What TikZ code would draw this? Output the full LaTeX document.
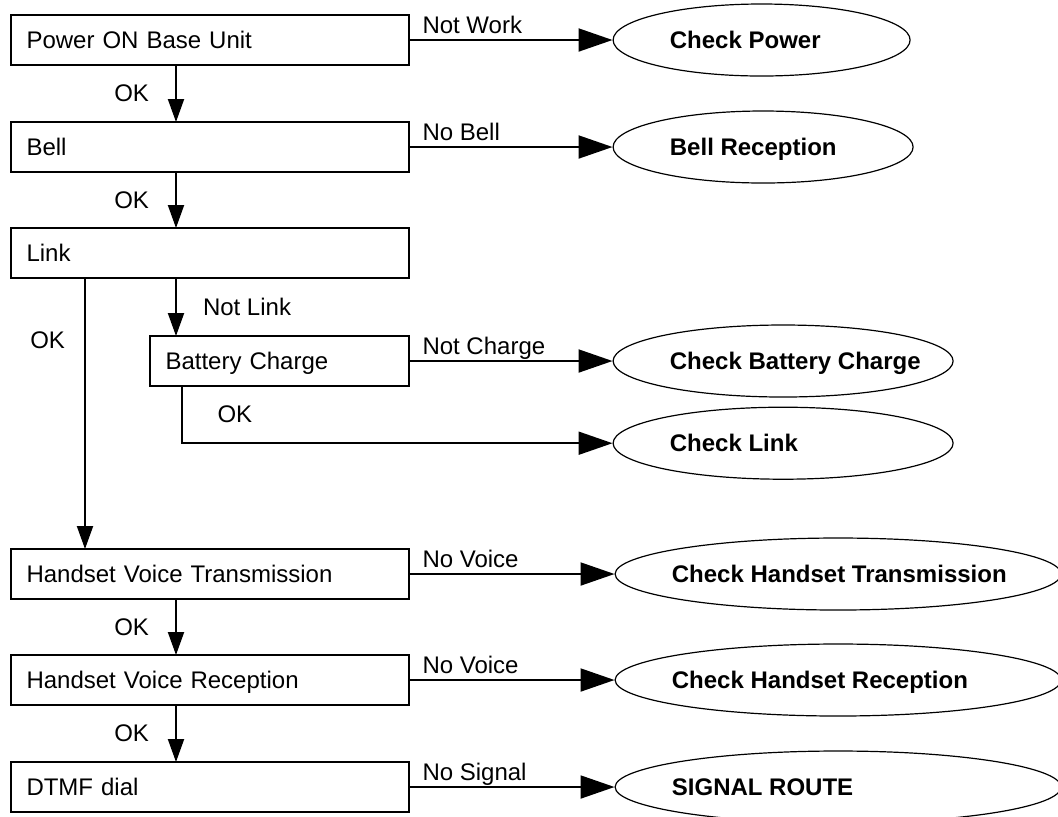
\documentclass[12pt,tikz,border=0pt]{standalone}
\usepackage{fontspec}
\setmainfont{Liberation Sans}
\usetikzlibrary{arrows.meta,positioning,shapes.geometric}

\begin{document}
\begin{tikzpicture}[
  node distance=28.5pt and 102pt,
  box/.style={draw, line width=1pt, outer sep=0pt, minimum height=25pt,
              text width=#1, inner xsep=8pt, align=left,
              text height=8.6pt, text depth=0pt},
  box/.default=183pt,
  oval/.style 2 args={ellipse, draw, line width=0.6pt, minimum width=#1,
              minimum height=36pt,
              label={[font=\bfseries, anchor=west, xshift=24.5pt,
                      text height=8.6pt, text depth=0pt]west:#2}},
  varr/.style={-{Triangle[length=11.5pt, width=8pt]}, line width=1pt},
  arr/.style={-{Triangle[length=17pt, width=11.5pt]}, line width=1pt},
  lbl/.style={pos=0, anchor=base west, inner sep=0pt, xshift=6.5pt, yshift=3.5pt},
  oklbl/.style={midway, left, inner sep=0pt, xshift=-13pt}
]
\useasboundingbox (0,0) rectangle (529pt,-408pt);
\coordinate (spine) at (88pt,0);
\coordinate (trunk) at (42.5pt,0);

% test steps
\node[box] (power) at (104.75pt,-20pt) {Power ON Base Unit};
\node[box, below=of power] (bell) {Bell};
\node[box, below=28pt of bell] (link) {Link};
\node[box=113.5pt, below=29pt of link.south east, anchor=north east] (batt) {Battery Charge};
\node[box, below=135.5pt of link] (hvt) {Handset Voice Transmission};
\node[box, below=28pt of hvt] (hvr) {Handset Voice Reception};
\node[box, below=of hvr] (dtmf) {DTMF dial};

% checks
\node[oval={148.5pt}{Check Power}, right=of power] (chkpower) {};
\node[oval={150pt}{Bell Reception}, right=of bell] (chkbell) {};
\node[oval={170pt}{Check Battery Charge}, right=of batt] (chkbatt) {};
\node[oval={170pt}{Check Link}, below=4.5pt of chkbatt] (chklink) {};
\node[oval={223pt}{Check Handset Transmission}, right=103pt of hvt] (chktx) {};
\node[oval={223pt}{Check Handset Reception}, right=103pt of hvr] (chkrx) {};
\node[oval={223pt}{SIGNAL ROUTE}, right=103pt of dtmf] (route) {};

\draw[arr] (power) -- node[lbl]{Not Work} (chkpower);
\draw[arr] (bell) -- node[lbl]{No Bell} (chkbell);
\draw[arr] (batt) -- node[lbl]{Not Charge} (chkbatt);
\draw[arr] (hvt) -- node[lbl]{No Voice} (chktx);
\draw[arr] (hvr) -- node[lbl]{No Voice} (chkrx);
\draw[arr] (dtmf) -- node[lbl]{No Signal} (route);

\draw[varr] (power.south -| spine) -- node[oklbl]{OK} (bell.north -| spine);
\draw[varr] (bell.south -| spine) -- node[oklbl]{OK} (link.north -| spine);
\draw[varr] (link.south -| spine) -- node[midway, right, inner sep=0pt, xshift=13pt]{Not Link} (batt.north -| spine);
\draw[varr] (link.south -| trunk) -- node[pos=0.23, left, inner sep=0pt, xshift=-9.5pt]{OK} (hvt.north -| trunk);
\draw[arr] ([xshift=16pt]batt.south west) |- node[pos=0.25, right, inner sep=0pt, xshift=17.5pt]{OK} (chklink);
\draw[varr] (hvt.south -| spine) -- node[oklbl]{OK} (hvr.north -| spine);
\draw[varr] (hvr.south -| spine) -- node[oklbl]{OK} (dtmf.north -| spine);
\end{tikzpicture}
\end{document}
